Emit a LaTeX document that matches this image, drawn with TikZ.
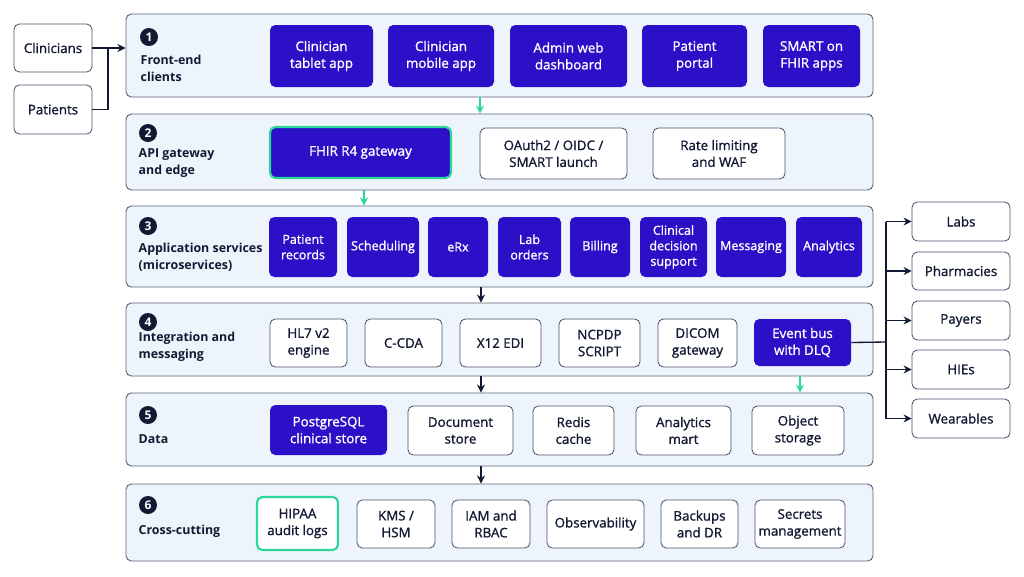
\documentclass[tikz,border=0pt]{standalone}
\usepackage{fontspec}
\setmainfont{Open Sans}
\newfontfamily\medfont{Open Sans}[FakeBold=1.2]
\usetikzlibrary{arrows.meta,calc}
\definecolor{indigo}{HTML}{2B10C8}
\definecolor{navy}{HTML}{121A33}
\definecolor{layerfill}{HTML}{EEF4FB}
\definecolor{layerdraw}{HTML}{5B6479}
\definecolor{mint}{HTML}{2DD79C}
\definecolor{boxdraw}{HTML}{4B5269}
\tikzset{
 layer/.style={draw=layerdraw, fill=layerfill, rounded corners=4pt, line width=0.7pt, inner sep=0pt},
 dark/.style={fill=indigo, text=white, rounded corners=4pt, inner sep=0pt, align=center, font=\medfont\fontsize{10}{12.6}\selectfont},
 darks/.style={dark, font=\medfont\fontsize{9.4}{11.6}\selectfont},
 light/.style={draw=boxdraw, fill=white, rounded corners=4pt, line width=0.6pt, inner sep=0pt, align=center, text=navy, font=\medfont\fontsize{10}{12.6}\selectfont},
 hl/.style={draw=mint, line width=1.6pt},
 num/.style={circle, fill=navy, text=white, font=\bfseries\fontsize{9}{9}\selectfont, inner sep=0pt, minimum size=13.5pt},
 ltitle/.style={anchor=west, align=left, text=navy, font=\bfseries\fontsize{9.3}{12.6}\selectfont},
 conn/.style={line width=1pt, draw=navy},
 arr/.style={conn, -{Stealth[length=6pt,width=6pt]}},
 garr/.style={line width=1pt, draw=mint, -{Stealth[length=6pt,width=6pt]}},
}
\newcommand\bx[7]{\node[#6, minimum width={(#4-#2)*0.75pt}, minimum height={(#5-#3)*0.75pt}] (#1) at ({(#2+#4)/2},{(#3+#5)/2}) {#7};}
\begin{document}
\begin{tikzpicture}[x=0.75pt,y=-0.75pt]
\useasboundingbox[fill=white] (0,0) rectangle (1024,576);
% layers
\bx{L1}{126}{14}{873}{97}{layer}{}
\bx{L2}{126}{114}{873}{190}{layer}{}
\bx{L3}{126}{206}{873}{287}{layer}{}
\bx{L4}{126}{303}{873}{376}{layer}{}
\bx{L5}{126}{393}{873}{466}{layer}{}
\bx{L6}{126}{484}{873}{561}{layer}{}
% numbers and titles
\node[num] (n1) at (149,37) {1};
\node[num] (n2) at (148,133) {2};
\node[num] (n3) at (148,226) {3};
\node[num] (n4) at (148,322) {4};
\node[num] (n5) at (148,415) {5};
\node[num] (n6) at (148,505) {6};
\node[ltitle] (t1) at (136,68.5) {Front-end\\clients};
\node[ltitle] (t2) at (134,163) {API gateway\\and edge};
\node[ltitle] (t3) at (134,257) {Application services\\(microservices)};
\node[ltitle] (t4) at (134,347) {Integration and\\messaging};
\node[ltitle] (t5) at (134,439) {Data};
\node[ltitle] (t6) at (134,531) {Cross-cutting};
% actors
\bx{clin}{14}{24}{92}{72}{light}{Clinicians}
\bx{pat}{14}{85}{92}{134}{light}{Patients}
% layer 1
\bx{tab}{270}{25}{373}{87}{dark}{Clinician\\tablet app}
\bx{mob}{388}{25}{494}{87}{dark}{Clinician\\mobile app}
\bx{adm}{510}{25}{627}{87}{dark}{Admin web\\dashboard}
\bx{por}{642}{25}{747}{87}{dark}{Patient\\portal}
\bx{sof}{763}{25}{860}{87}{dark}{SMART on\\FHIR apps}
% layer 2
\bx{fhir}{270}{127}{451}{178}{dark,hl}{FHIR R4 gateway}
\bx{oauth}{480}{128}{627}{179}{light}{OAuth2 / OIDC /\\SMART launch}
\bx{rate}{653}{128}{785}{179}{light}{Rate limiting\\and WAF}
% layer 3
\bx{prec}{269}{217}{337}{277}{darks}{Patient\\records}
\bx{sched}{347}{217}{419}{277}{darks}{Scheduling}
\bx{erx}{428}{217}{488}{277}{darks}{eRx}
\bx{lab}{498}{217}{561}{277}{darks}{Lab\\orders}
\bx{bill}{570}{217}{630}{277}{darks}{Billing}
\bx{cds}{640}{217}{707}{277}{darks}{Clinical\\decision\\support}
\bx{msg}{716}{217}{786}{277}{darks}{Messaging}
\bx{ana}{796}{217}{862}{277}{darks}{Analytics}
% layer 4
\bx{hl7}{270}{319}{347}{367}{light}{HL7 v2\\engine}
\bx{ccda}{365}{319}{442}{367}{light}{C-CDA}
\bx{x12}{460}{319}{541}{367}{light}{X12 EDI}
\bx{ncpdp}{559}{319}{640}{367}{light}{NCPDP\\SCRIPT}
\bx{dicom}{658}{319}{737}{367}{light}{DICOM\\gateway}
\bx{bus}{754}{319}{851}{366}{dark}{Event bus\\with DLQ}
% layer 5
\bx{pg}{270}{405}{387}{455}{dark}{PostgreSQL\\clinical store}
\bx{doc}{408}{406}{513}{455}{light}{Document\\store}
\bx{redis}{533}{406}{614}{455}{light}{Redis\\cache}
\bx{mart}{636}{406}{731}{455}{light}{Analytics\\mart}
\bx{obj}{752}{406}{844}{455}{light}{Object\\storage}
% layer 6
\bx{hipaa}{257}{497}{338}{550}{light,hl}{HIPAA\\audit logs}
\bx{kms}{357}{500}{435}{548}{light}{KMS /\\HSM}
\bx{iam}{452}{500}{530}{548}{light}{IAM and\\RBAC}
\bx{obs}{547}{500}{644}{548}{light}{Observability}
\bx{bak}{661}{500}{738}{548}{light}{Backups\\and DR}
\bx{sec}{755}{500}{845}{548}{light}{Secrets\\management}
% external
\bx{labs}{912}{202}{1010}{241}{light}{Labs}
\bx{pharm}{912}{252}{1010}{290}{light}{Pharmacies}
\bx{pay}{912}{301}{1010}{340}{light}{Payers}
\bx{hie}{912}{350}{1010}{389}{light}{HIEs}
\bx{wear}{912}{399}{1010}{438}{light}{Wearables}
% connectors
\coordinate (j) at (108,48);
\draw[arr] (clin.east) -- (clin.east -| L1.west);
\draw[conn] (pat.east) -| (j);
\coordinate (g1) at (480,97);
\draw[garr] (g1) -- (g1 |- L2.north);
\coordinate (g2) at (364,190);
\draw[garr] (g2) -- (g2 |- L3.north);
\coordinate (b1) at (481,287);
\draw[arr] (b1) -- (b1 |- L4.north);
\coordinate (b2) at (481,376);
\draw[arr] (b2) -- (b2 |- L5.north);
\coordinate (b3) at (481,466);
\draw[arr] (b3) -- (b3 |- L6.north);
\coordinate (g3) at (800,376);
\draw[garr] (g3) -- (g3 |- L5.north);
\coordinate (tr) at (886,342);
\draw[conn] (bus.east) -- (tr);
\draw[conn] (886,221.5) -- (886,418.5);
\foreach \t in {labs,pharm,pay,hie,wear}{
  \draw[arr] (\t.west -| tr) -- (\t.west);
}
\end{tikzpicture}
\end{document}
